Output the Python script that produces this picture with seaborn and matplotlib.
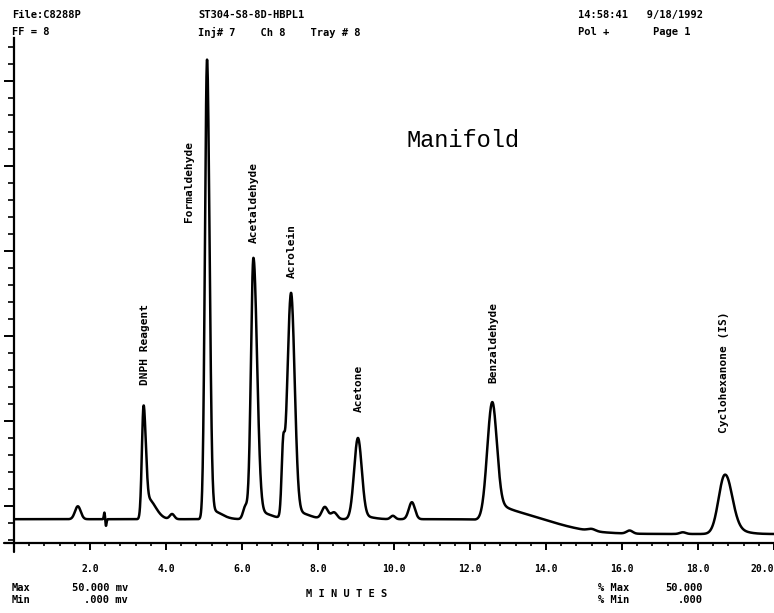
import numpy as np
import pandas as pd
import matplotlib
matplotlib.use("Agg")
import matplotlib.pyplot as plt
import seaborn as sns

# ---- Named compounds: retention time (min), height, left / right peak widths (min)
compound_names   = ["DNPH Reagent", "Formaldehyde", "Acetaldehyde", "Acrolein",
                    "Acetone", "Benzaldehyde", "Cyclohexanone (IS)"]
compound_times   = [3.41, 5.08, 6.30, 7.29, 9.05, 12.58, 18.70]
compound_heights = [6.58, 27.0, 15.3, 13.25, 4.75, 6.4, 3.4]
compound_sig_l   = [0.045, 0.055, 0.065, 0.10, 0.10, 0.13, 0.16]
compound_sig_r   = [0.055, 0.065, 0.095, 0.095, 0.10, 0.12, 0.19]

# ---- Tailing components following the main peaks
tail_times   = [3.52, 5.20, 6.45, 7.45, 9.20, 12.80, 18.85]
tail_heights = [1.20, 0.50, 0.40, 0.40, 0.15, 1.35, 0.25]
tail_sig_l   = [0.05, 0.05, 0.08, 0.08, 0.08, 0.20, 0.10]
tail_sig_r   = [0.20, 0.25, 0.30, 0.30, 0.25, 1.20, 0.35]

# ---- Minor unlabelled peaks (negative = injection dip)
minor_times   = [1.68, 2.38, 2.42, 4.16, 6.09, 7.08, 8.18, 8.42, 9.97, 10.47, 15.20, 16.20, 17.60]
minor_heights = [0.76, 0.40, -0.40, 0.30, 0.75, 3.30, 0.70, 0.40, 0.20, 1.00, 0.12, 0.18, 0.10]
minor_sigma   = [0.075, 0.015, 0.015, 0.06, 0.06, 0.04, 0.08, 0.08, 0.06, 0.08, 0.10, 0.08, 0.08]

# ---- Detector baseline before / after the drift near benzaldehyde
baseline_levels = [-0.80, -1.67]
baseline_shift_time = 12.75
baseline_shift_width = 0.20

# ---- Peak label anchors (x = minutes, y = bottom of the text)
label_times   = [3.45, 4.61, 6.32, 7.32, 9.08, 12.61, 18.68]
label_bottoms = [7.09, 16.68, 15.45, 13.39, 5.51, 7.21, 4.27]

x_tick_values = [0, 2, 4, 6, 8, 10, 12, 14, 16, 18, 20]
x_tick_labels = ["", "2.0", "4.0", "6.0", "8.0", "10.0", "12.0", "14.0", "16.0", "18.0", "20.0"]


def asym_gauss(t, t0, h, sl, sr):
    s = np.where(t < t0, sl, sr)
    return h * np.exp(-0.5 * ((t - t0) / s) ** 2)


minutes = np.linspace(0, 20, 4001)
signal = baseline_levels[0] + (baseline_levels[1] - baseline_levels[0]) / (
    1 + np.exp(-(minutes - baseline_shift_time) / baseline_shift_width))
for t0, h, sl, sr in zip(compound_times, compound_heights, compound_sig_l, compound_sig_r):
    signal = signal + asym_gauss(minutes, t0, h, sl, sr)
for t0, h, sl, sr in zip(tail_times, tail_heights, tail_sig_l, tail_sig_r):
    signal = signal + asym_gauss(minutes, t0, h, sl, sr)
for t0, h, s in zip(minor_times, minor_heights, minor_sigma):
    signal = signal + asym_gauss(minutes, t0, h, s, s)

trace = pd.DataFrame({"minutes": minutes, "signal": signal})

sns.set_style("ticks")
plt.rcParams["font.family"] = ["DejaVu Sans Mono", "DejaVu Sans"]
plt.rcParams["text.color"] = "black"
plt.rcParams["xtick.color"] = "black"
plt.rcParams["ytick.color"] = "black"
plt.rcParams["axes.edgecolor"] = "black"

W, H = 774, 613
fig = plt.figure(figsize=(W / 100, H / 100), dpi=100)
ax = fig.add_axes([14 / W, 1 - 543 / H, 760 / W, 505 / H])

sns.lineplot(data=trace, x="minutes", y="signal", color="black",
             linewidth=1.8, ax=ax, legend=False)

ax.set_xlim(0, 20)
ax.set_ylim(-2.2, 27.5)
ax.set_xlabel("")
ax.set_ylabel("")

for side in ["top", "right"]:
    ax.spines[side].set_visible(False)
for side in ["left", "bottom"]:
    ax.spines[side].set_linewidth(1.6)
    ax.spines[side].set_color("black")

ax.set_xticks(x_tick_values)
ax.set_xticklabels(x_tick_labels, fontsize=7, fontweight="bold", color="black")
ax.set_xticks(np.arange(0, 20.01, 0.4), minor=True)
ax.tick_params(axis="x", which="major", direction="out", length=5, width=1.4, pad=10,
               colors="black")
ax.tick_params(axis="x", which="minor", direction="out", length=2.5, width=1.2,
               colors="black")
ax.get_xticklabels()[-1].set_ha("right")
ax.get_xticklabels()[-1].set_x(20)

ax.set_yticks(np.arange(0, 26, 5))
ax.set_yticklabels([])
ax.set_yticks(np.arange(-2, 28, 1), minor=True)
ax.tick_params(axis="y", which="major", direction="out", length=7, width=1.4, colors="black")
ax.tick_params(axis="y", which="minor", direction="out", length=4, width=1.2, colors="black")

# axis lines poke slightly past the origin
ax.plot([-10 / 760, 0], [0, 0], transform=ax.transAxes, color="black", lw=1.6, clip_on=False)
ax.plot([0, 0], [-9 / 505, 0], transform=ax.transAxes, color="black", lw=1.6, clip_on=False)

for name, lt, lb in zip(compound_names, label_times, label_bottoms):
    ax.text(lt, lb, name, rotation=90, ha="center", va="bottom",
            fontsize=8, fontweight="bold", color="black")

ax.text(11.82, 21.5, "Manifold", ha="center", va="center",
        fontsize=17, family="Liberation Mono", color="black")


def ftext(x, y, s, ha="left", size=7.5):
    fig.text(x / W, 1 - y / H, s, ha=ha, va="center", fontsize=size,
             fontweight="bold", color="black")


# header block
ftext(12, 15, "File:C8288P")
ftext(12, 32, "FF = 8")
ftext(198, 15, "ST304-S8-8D-HBPL1")
ftext(198, 32, "Inj# 7    Ch 8    Tray # 8")
ftext(578, 15, "14:58:41   9/18/1992")
ftext(578, 32, "Pol +       Page 1")

# footer block
ftext(12, 588, "Max")
ftext(12, 600, "Min")
ftext(128, 588, "50.000 mv", ha="right")
ftext(128, 600, ".000 mv", ha="right")
ftext(347, 594, "M I N U T E S", ha="center")
ftext(598, 588, "% Max")
ftext(598, 600, "% Min")
ftext(703, 588, "50.000", ha="right")
ftext(703, 600, ".000", ha="right")

fig.savefig("out.png", dpi=100)
